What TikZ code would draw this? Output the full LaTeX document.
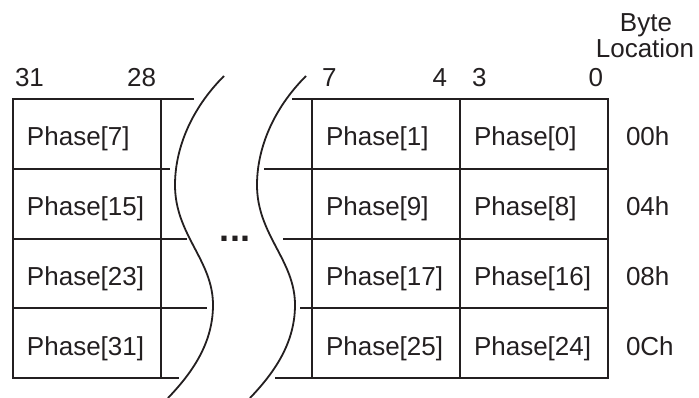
\documentclass[tikz,border=0pt]{standalone}
\usepackage{fontspec}
\setmainfont{Liberation Sans}
\definecolor{ink}{RGB}{35,31,32}
\begin{document}
\begin{tikzpicture}[x=1pt,y=-1pt,
  txt/.style={inner sep=0pt,outer sep=0pt,anchor=base west,text=ink,font=\fontsize{26}{30}\selectfont},
  outer/.style={draw=ink,line width=2.4pt},
  inner/.style={draw=ink,line width=1.6pt},
  cut/.style={draw=ink,line width=1.8pt}]
\useasboundingbox (0,0) rectangle (699,398);
% outer border pieces
\draw[outer] (194,99) -- (13,99) -- (13,378) -- (179,378);
\draw[outer] (292,99) -- (608,99) -- (608,378) -- (275,378);
% inner rows
\draw[inner] (13,169) -- (170,169);
\draw[inner] (13,239) -- (187,239);
\draw[inner] (13,308) -- (207,308);
\draw[inner] (264,169) -- (608,169);
\draw[inner] (283,239) -- (608,239);
\draw[inner] (300,308) -- (608,308);
% inner columns
\draw[inner] (161,99) -- (161,378);
\draw[inner] (312,99) -- (312,378);
\draw[inner] (460,99) -- (460,378);
% break curves
\foreach \dx in {0,82}{
  \draw[cut,xshift=\dx pt] (224,76) .. controls (190,110) and (175,150) .. (175,185)
     .. controls (175,235) and (213,260) .. (213,305)
     .. controls (213,345) and (190,375) .. (168,398);
}
% bit numbers
\node[txt] (b31) at (15,87) {31};
\node[txt,anchor=base east] (b28) at (156,87) {28};
\node[txt] (b7) at (322,87) {7};
\node[txt,anchor=base east] (b4) at (447,87) {4};
\node[txt] (b3) at (472,87) {3};
\node[txt,anchor=base east] (b0) at (603,87) {0};
% header
\node[txt,anchor=base] (byte) at (646,32) {Byte};
\node[txt,anchor=base] (loc) at (645,58) {Location};
% cells
\node[txt] (p7) at (27,146) {Phase[7]};
\node[txt] (p15) at (27,216) {Phase[15]};
\node[txt] (p23) at (27,285) {Phase[23]};
\node[txt] (p31) at (27,355) {Phase[31]};
\node[txt] (p1) at (326,146) {Phase[1]};
\node[txt] (p9) at (326,216) {Phase[9]};
\node[txt] (p17) at (326,285) {Phase[17]};
\node[txt] (p25) at (326,355) {Phase[25]};
\node[txt] (p0) at (474,146) {Phase[0]};
\node[txt] (p8) at (474,216) {Phase[8]};
\node[txt] (p16) at (474,285) {Phase[16]};
\node[txt] (p24) at (474,355) {Phase[24]};
% addresses
\node[txt] (a0) at (626,146) {00h};
\node[txt] (a4) at (626,216) {04h};
\node[txt] (a8) at (626,285) {08h};
\node[txt] (ac) at (626,355) {0Ch};
% dots
\node[txt,anchor=base,font=\fontsize{36}{40}\selectfont\bfseries] (dots) at (235,242) {...};
\end{tikzpicture}
\end{document}
